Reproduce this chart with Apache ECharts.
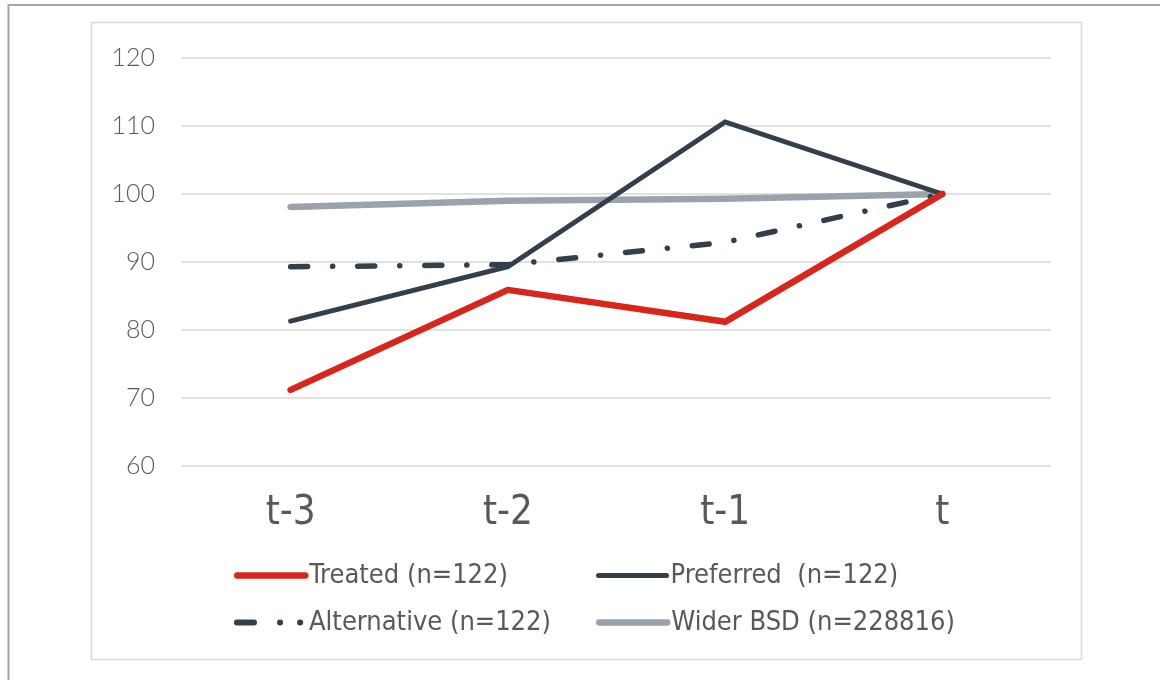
<!DOCTYPE html>
<html>
<head>
<meta charset="utf-8">
<script src="https://cdn.jsdelivr.net/npm/echarts@6/dist/echarts.min.js"></script>
<style>
html,body{margin:0;padding:0;background:#fff;}
#c{width:1160px;height:680px;}
</style>
</head>
<body>
<div id="c"></div>
<script>
const categories = ['t-3', 't-2', 't-1', 't'];
const treated = [71.2, 85.9, 81.2, 100];
const preferred = [81.3, 89.3, 110.6, 100];
const alternative = [89.3, 89.6, 92.9, 100];
const widerBSD = [98.1, 99.0, 99.3, 100];
const seriesNames = ['Treated (n=122)', 'Preferred  (n=122)', 'Alternative (n=122)', 'Wider BSD (n=228816)'];

const narrow = "'DejaVu Sans Condensed', 'Liberation Sans Narrow', 'Roboto', sans-serif";
const labelColor = '#595959';

const chart = echarts.init(document.getElementById('c'), null, {renderer: 'canvas'});

function legendAt(name, left, top, width, type) {
  return {
    data: [name], left: left, top: top, itemWidth: 68, itemHeight: 14,
    itemGap: 0, padding: 0,
    itemStyle: {opacity: 0},
    lineStyle: {width: width, cap: 'round', type: type || 'solid'},
    textStyle: {color: labelColor, fontSize: 27, fontWeight: 300, fontFamily: narrow, padding: [0, 0, 0, -1]}
  };
}

chart.setOption({
  animation: false,
  backgroundColor: '#fff',
  graphic: [
    {type: 'polyline', shape: {points: [[8.5, 680], [8.5, 5], [1160, 5]]}, style: {stroke: '#a6a6a6', lineWidth: 2, fill: null}, silent: true},
    {type: 'rect', shape: {x: 91.5, y: 22.5, width: 990, height: 637}, style: {stroke: '#d9d9d9', lineWidth: 1.5, fill: null}, silent: true}
  ],
  grid: {left: 182, right: 109, top: 58, bottom: 214, containLabel: false},
  xAxis: {
    type: 'category', data: categories, boundaryGap: true,
    axisLine: {show: false}, axisTick: {show: false},
    axisLabel: {color: labelColor, fontSize: 40, fontWeight: 300, fontFamily: narrow, margin: 28}
  },
  yAxis: {
    type: 'value', min: 60, max: 120, interval: 10,
    axisLine: {show: false}, axisTick: {show: false},
    splitLine: {lineStyle: {color: '#d9d9d9', width: 1.5}},
    axisLabel: {color: labelColor, fontSize: 25, fontWeight: 300, fontFamily: "'Lato', 'Open Sans', sans-serif", margin: 27}
  },
  legend: [
    legendAt(seriesNames[0], 234, 562, 6.5),
    legendAt(seriesNames[1], 596, 562, 5),
    legendAt(seriesNames[2], 234, 609, 6, [17, 26, 0.1, 20, 0.1, 40]),
    legendAt(seriesNames[3], 596, 609, 6.5)
  ],
  series: [
    {name: seriesNames[3], type: 'line', data: widerBSD, symbol: 'none', z: 1,
     lineStyle: {color: '#9aa3ab', width: 6.5, cap: 'round', join: 'round'}, itemStyle: {color: '#9aa3ab'}},
    {name: seriesNames[1], type: 'line', data: preferred, symbol: 'none', z: 2,
     lineStyle: {color: '#333f4a', width: 5, cap: 'round', join: 'miter'}, itemStyle: {color: '#333f4a'}},
    {name: seriesNames[2], type: 'line', data: alternative, symbol: 'none', z: 3,
     lineStyle: {color: '#333f4a', width: 5.5, cap: 'round', type: [17, 25, 0.1, 25]}, itemStyle: {color: '#333f4a'}},
    {name: seriesNames[0], type: 'line', data: treated, symbol: 'none', z: 4,
     lineStyle: {color: '#d9261c', width: 6.5, cap: 'round', join: 'round'}, itemStyle: {color: '#d9261c'}}
  ]
});
</script>
</body>
</html>
